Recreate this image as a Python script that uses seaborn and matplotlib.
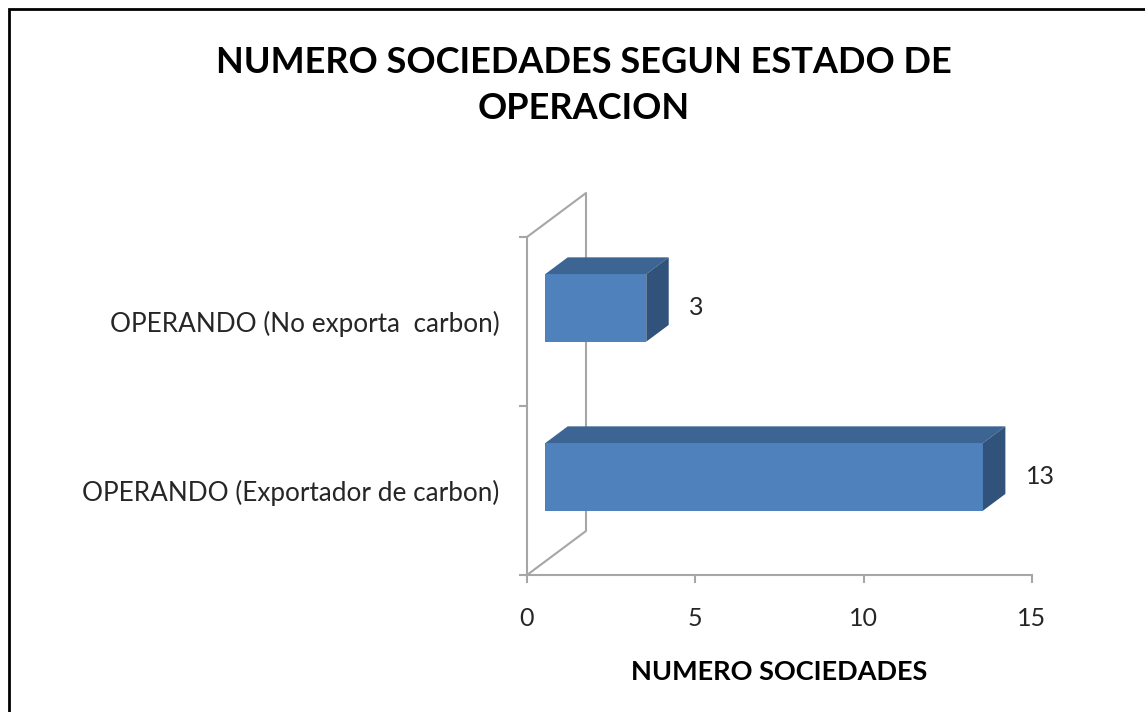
import matplotlib

matplotlib.use("Agg")
import matplotlib.pyplot as plt
from matplotlib.patches import Polygon, Rectangle
from matplotlib.transforms import ScaledTranslation
import pandas as pd
import seaborn as sns

# data
estados = ["OPERANDO (No exporta  carbon)", "OPERANDO (Exportador de carbon)"]
sociedades = [3, 13]
x_ticks = [0, 5, 10, 15]

title = "NUMERO SOCIEDADES SEGUN ESTADO DE\nOPERACION"
x_label = "NUMERO SOCIEDADES"

FRONT = "#4F81BD"
TOP = "#3C6594"
SIDE = "#30527B"
WALL = "#A6A6A6"
TEXT = "#262626"

# depth of the fake 3d box, in pixels (dpi 100)
WALL_DX, WALL_DY = 59, 44
BAR_D0, BAR_D1 = 0.31, 0.69

sns.set_theme(style="white")
plt.rcParams["font.family"] = ["Lato", "DejaVu Sans"]

df = pd.DataFrame({"estado": estados, "n": sociedades})

fig = plt.figure(figsize=(11.45, 7.12), dpi=100)
ax = fig.add_axes([527 / 1145, 1 - 575 / 712, 505 / 1145, 338 / 712])

sns.barplot(data=df, y="estado", x="n", orient="h", color=FRONT,
            width=0.4, saturation=1, ax=ax, zorder=3)

ax.set_xlim(0, 15)
ax.set_ylim(1.5, -0.5)
fig.canvas.draw()


def shift(frac):
    return ScaledTranslation(WALL_DX * frac / 100, WALL_DY * frac / 100,
                             fig.dpi_scale_trans)


# left wall of the box
to_disp = ax.transData.transform
to_data = ax.transData.inverted().transform
p0 = to_disp((0, 1.5))
p1 = to_disp((0, -0.5))
wall = to_data([p0, p0 + (WALL_DX, WALL_DY), p1 + (WALL_DX, WALL_DY), p1])
ax.plot(wall[:, 0], wall[:, 1], color=WALL, lw=1.5, clip_on=False, zorder=1)

# faces of each bar
for bar, val in zip(ax.patches, sociedades):
    x0, y0 = bar.get_x(), bar.get_y()
    w, h = bar.get_width(), bar.get_height()
    a = to_disp([(x0, y0), (x0 + w, y0), (x0 + w, y0 + h), (x0, y0 + h)])
    d0 = (WALL_DX * BAR_D0, WALL_DY * BAR_D0)
    d1 = (WALL_DX * BAR_D1, WALL_DY * BAR_D1)
    # y0 is the top edge (inverted axis)
    top = to_data([a[0] + d0, a[1] + d0, a[1] + d1, a[0] + d1])
    side = to_data([a[1] + d0, a[2] + d0, a[2] + d1, a[1] + d1])
    ax.add_patch(Polygon(top, closed=True, color=TOP, lw=0, zorder=4,
                         clip_on=False))
    ax.add_patch(Polygon(side, closed=True, color=SIDE, lw=0, zorder=4,
                         clip_on=False))
    bar.set_transform(ax.transData + shift(BAR_D0))
    bar.set_edgecolor("none")
    bar.set_clip_on(False)
    ax.annotate(f"{val}", (x0 + w, y0 + h / 2), xytext=(44, 10),
                textcoords="offset points", ha="left", va="center",
                fontsize=18, color=TEXT)

sns.despine(ax=ax, top=True, right=True)
for s in ["left", "bottom"]:
    ax.spines[s].set_color(WALL)
    ax.spines[s].set_linewidth(1.5)

ax.set_xticks(x_ticks)
ax.set_yticks([-0.5, 0.5, 1.5], minor=True)
ax.tick_params(axis="x", which="major", length=6, width=1.5, color=WALL,
               bottom=True, labelsize=18, pad=17, labelcolor=TEXT)
ax.tick_params(axis="y", which="major", length=0, labelsize=18.8, pad=20,
               labelcolor=TEXT)
ax.tick_params(axis="y", which="minor", length=6, width=1.5, color=WALL,
               left=True)
ax.set_ylabel("")
ax.set_xlabel(x_label, fontsize=19.5, fontweight="bold", labelpad=22,
              color="black")

fig.text(0.51, 0.88, title, ha="center", va="center", fontsize=26,
         fontweight="bold", linespacing=1.5, color="black")

fig.patches.append(Rectangle((9 / 1145, -0.1), 1.2, 1 - 9 / 712 + 0.1,
                             transform=fig.transFigure, fill=False,
                             edgecolor="black", lw=2, figure=fig))

fig.savefig("out.png", dpi=100)
